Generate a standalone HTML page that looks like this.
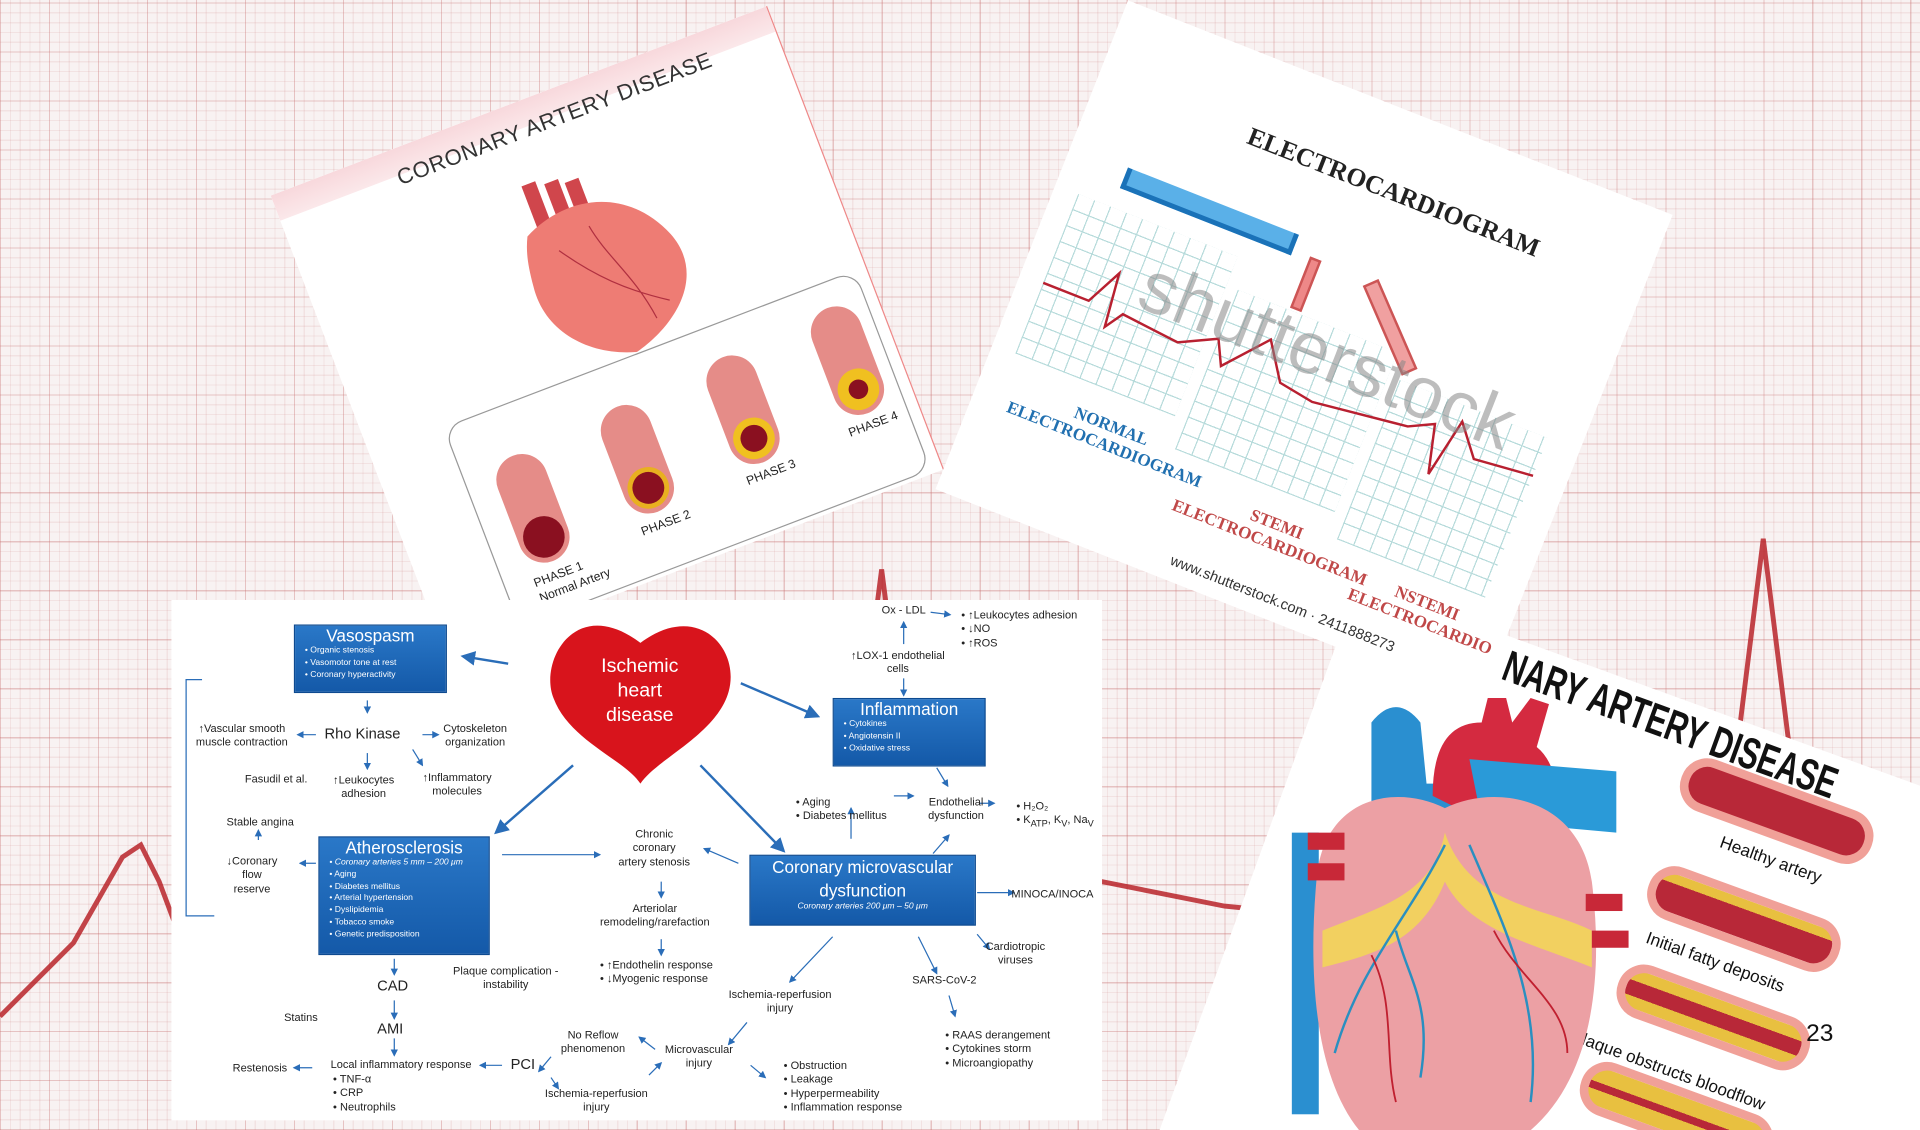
<!DOCTYPE html>
<html><head><meta charset="utf-8"><style>
*{margin:0;padding:0;box-sizing:border-box}
html,body{width:1920px;height:1130px;overflow:hidden;background:#f6f0f0}
#w{position:absolute;left:0;top:0;width:1568px;height:923px;transform:scale(1.22449);transform-origin:0 0;font-family:"Liberation Sans",sans-serif;
background:
repeating-linear-gradient(0deg,rgba(200,110,110,.28) 0 1px,transparent 1px 40px),
repeating-linear-gradient(90deg,rgba(200,110,110,.28) 0 1px,transparent 1px 40px),
repeating-linear-gradient(0deg,rgba(200,120,120,.13) 0 1px,transparent 1px 8px),
repeating-linear-gradient(90deg,rgba(200,120,120,.13) 0 1px,transparent 1px 8px),#f8f2f2;overflow:hidden}
.card{position:absolute;background:#fff;overflow:hidden}
.t{position:absolute;font-size:9px;color:#222;line-height:1.25;white-space:nowrap}
.c{text-align:center}
.box{position:absolute;background:linear-gradient(#2a78c8,#1459a8);color:#fff;border:1px solid #0d4a90}
.box h3{font-weight:normal;text-align:center}
.box ul{list-style:none;font-size:7px;padding-left:8px;line-height:1.4}
.box li:before{content:"• ";}
.tube{position:absolute;width:42px;height:92px;background:#e58c88;border-radius:21px}
.tube i{position:absolute;left:4px;bottom:4px;width:34px;height:34px;border-radius:50%;background:#8a1020}
.grid{position:absolute;background:repeating-linear-gradient(0deg,#9cc 0 1px,transparent 1px 14px),repeating-linear-gradient(90deg,#9cc 0 1px,transparent 1px 14px);opacity:.7}
.art{position:absolute;width:165px;height:45px;border-radius:22px;background:#b82838;border:7px solid #f0a098}
.lb{position:absolute;font-size:14px;color:#111;white-space:nowrap}
</style></head><body><div id="w">
<svg width="1568" height="923" style="position:absolute;left:0;top:0">
<polyline fill="none" stroke="#b8242a" stroke-width="4" opacity=".85" points="0,830 60,770 100,700 115,690 130,720 160,800 200,760 300,740 500,720 680,700 700,620 720,465 740,620 760,700 900,720 1000,740 1200,760 1380,720 1420,600 1440,440 1460,600 1480,740 1568,720"/>
</svg>
<!-- card 1 -->
<div class="card" style="left:279px;top:68.5px;width:434px;height:405px;transform:rotate(-20.9deg);border-right:1px solid #e88;">
<div style="height:22px;background:linear-gradient(#f8d8dc,#fbe8ea)"></div>
<div style="position:absolute;left:102px;top:14px;font-size:18px;color:#333;letter-spacing:.5px">CORONARY ARTERY DISEASE</div>
<svg style="position:absolute;left:164px;top:66px" width="140" height="165" viewBox="0 0 140 165">
<rect x="30" y="0" width="12" height="45" fill="#d0464c"/><rect x="48" y="5" width="12" height="40" fill="#d0464c"/><rect x="64" y="10" width="12" height="35" fill="#d0464c"/>
<path d="M20,40 C60,20 110,30 130,80 C145,120 110,150 70,160 C35,150 5,120 10,80 C12,60 15,50 20,40Z" fill="#ee7c74"/>
<path d="M40,60 C60,90 80,110 110,130 M70,50 C75,80 90,100 95,140" stroke="#b03040" fill="none"/>
</svg>
<div style="position:absolute;left:64px;top:227px;width:360px;height:175px;border:1px solid #999;border-radius:16px"></div>
<div class="tube" style="left:88px;top:269px"><i></i></div>
<div class="tube" style="left:182px;top:262px"><i style="background:#8a1020;border:4px solid #e8b020"></i></div>
<div class="tube" style="left:277px;top:255px"><i style="border:6px solid #f0c020"></i></div>
<div class="tube" style="left:371px;top:248px"><i style="border:9px solid #f0c020"></i></div>
<div class="t" style="left:88px;top:368px;font-size:10px">PHASE 1<br>Normal Artery</div><div class="t" style="left:185px;top:360px;font-size:10px">PHASE 2</div>
<div class="t" style="left:280px;top:352px;font-size:10px">PHASE 3</div><div class="t" style="left:372px;top:345px;font-size:10px">PHASE 4</div>
</div>
<!-- card 4 -->
<div class="card" style="left:1110px;top:475px;width:620px;height:620px;transform:rotate(20deg);transform-origin:0 0">
<div style="position:absolute;left:135px;top:2px;font:bold 36px 'Liberation Sans',sans-serif;color:#111;transform:scaleX(.68);transform-origin:0 0">NARY ARTERY DISEASE</div>
<div class="art" style="left:302px;top:37px"></div>
<div class="lb" style="left:350px;top:90px">Healthy artery</div>
<div class="art" style="left:307px;top:129px;background:linear-gradient(#e8c040 0 25%,#b82838 25%)"></div>
<div class="lb" style="left:320px;top:184px">Initial fatty deposits</div>
<div class="art" style="left:311px;top:213px;background:linear-gradient(#e8c040 0 30%,#b82838 30% 70%,#e8c040 70%)"></div>
<div class="lb" style="left:290px;top:280px">Plaque obstructs bloodflow</div>
<div class="art" style="left:310px;top:298px;background:linear-gradient(#e8c040 0 40%,#b82838 40% 60%,#e8c040 60%)"></div>
</div>
<svg width="1568" height="923" style="position:absolute;left:0;top:0">
<rect x="1055" y="680" width="22" height="230" fill="#2a8fd0"/>
<path d="M1120,700 L1120,590 Q1140,565 1160,590 L1165,640 L1230,640 Q1255,650 1260,690 Z" fill="#2a8fd0"/>
<path d="M1170,650 Q1170,590 1210,590 L1215,570 L1230,570 L1235,590 L1250,570 L1265,575 L1255,610 Q1280,630 1270,700 Z" fill="#d42a40"/>
<path d="M1200,620 L1320,630 L1320,680 L1210,670Z" fill="#2a9ad8"/>
<path d="M1075,720 C1080,650 1140,640 1180,660 C1220,640 1290,650 1300,720 C1310,800 1300,880 1250,923 L1110,923 C1075,880 1068,800 1075,720Z" fill="#eca0a4"/>
<path d="M1080,760 C1130,740 1170,730 1180,680 C1200,740 1260,740 1300,760 L1300,790 C1250,770 1200,760 1180,720 C1160,770 1120,780 1080,790Z" fill="#f2d060"/>
<g stroke="#2a8fc0" stroke-width="2" fill="none"><path d="M1180,690 C1150,750 1110,790 1090,860 M1200,690 C1230,760 1260,820 1250,900 M1140,760 C1150,800 1170,820 1160,880"/></g>
<g stroke="#c02030" stroke-width="1.5" fill="none"><path d="M1120,780 C1140,820 1130,860 1140,900 M1220,760 C1240,800 1280,820 1280,860"/></g>
<rect x="1068" y="680" width="30" height="14" fill="#c82838"/><rect x="1068" y="705" width="30" height="14" fill="#c82838"/>
<rect x="1295" y="730" width="30" height="14" fill="#c82838"/><rect x="1300" y="760" width="30" height="14" fill="#c82838"/>
</svg>
<!-- card 2 -->
<div class="card" style="left:826px;top:72.5px;width:478px;height:429px;transform:rotate(21.5deg)">
<div style="position:absolute;left:132px;top:54px;font:bold 21px 'Liberation Serif',serif;color:#222">ELECTROCARDIOGRAM</div>
<div class="grid" style="left:20px;top:162px;width:140px;height:140px"></div>
<div class="grid" style="left:170px;top:187px;width:140px;height:140px"></div>
<div class="grid" style="left:320px;top:207px;width:130px;height:140px"></div>
<div style="position:absolute;left:50px;top:127px;width:150px;height:18px;border:4px solid #1a72b8;border-top:none;background:#5ab0e8"></div>
<div style="position:absolute;left:215px;top:140px;width:10px;height:45px;background:#e88;border:2px solid #c55"></div>
<div style="position:absolute;left:290px;top:130px;width:14px;height:80px;background:#f0a0a0;border:2px solid #c55;transform:rotate(-45deg)"></div>
<svg style="position:absolute;left:20px;top:200px" width="440" height="80"><polyline fill="none" stroke="#b82030" stroke-width="2" points="0,40 40,40 55,10 60,55 70,40 120,45 150,30 160,50 190,15 210,45 240,50 320,40 340,30 350,70 360,20 380,45 430,40"/></svg>
<div style="position:absolute;left:96px;top:175px;font-size:60px;color:#888;opacity:.55">shutterstock</div>
<div style="position:absolute;left:30px;top:322px;font:bold 14px 'Liberation Serif',serif;color:#2170b0;text-align:center">NORMAL<br>ELECTROCARDIOGRAM</div>
<div style="position:absolute;left:185px;top:347px;font:bold 14px 'Liberation Serif',serif;color:#c04848;text-align:center">STEMI<br>ELECTROCARDIOGRAM</div>
<div style="position:absolute;left:345px;top:362px;font:bold 14px 'Liberation Serif',serif;color:#c04848;text-align:center">NSTEMI<br>ELECTROCARDIO</div>
<div style="position:absolute;left:200px;top:405px;font-size:12px;color:#333">www.shutterstock.com · 2411888273</div>
</div>
<div class="t" style="left:1475px;top:832px;font-size:20px;color:#111">23</div>
<!-- diagram -->
<div class="card" style="left:140px;top:490px;width:760px;height:425px">
<svg width="760" height="425" style="position:absolute;left:0;top:0">
<defs><marker id="a" markerWidth="6" markerHeight="6" refX="5" refY="3" orient="auto"><path d="M0,0L6,3L0,6z" fill="#2a6db8"/></marker></defs>
<path d="M383,35 C330,-5 300,50 312,80 C325,115 370,130 383,150 C396,130 445,110 455,75 C465,40 430,0 383,35Z" fill="#d8141c"/>
<g stroke="#2a6db8" stroke-width="2" fill="none" marker-end="url(#a)">
<line x1="275" y1="52" x2="238" y2="46"/><line x1="465" y1="68" x2="528" y2="95"/>
<line x1="328" y1="135" x2="265" y2="190"/><line x1="432" y1="135" x2="500" y2="205"/>
</g>
<g stroke="#2a6db8" stroke-width="1" fill="none" marker-end="url(#a)">
<line x1="160" y1="82" x2="160" y2="92"/><line x1="118" y1="110" x2="103" y2="110"/><line x1="205" y1="110" x2="218" y2="110"/>
<line x1="160" y1="125" x2="160" y2="138"/><line x1="197" y1="122" x2="205" y2="135"/>
<line x1="270" y1="208" x2="350" y2="208"/><line x1="463" y1="215" x2="435" y2="203"/>
<line x1="400" y1="230" x2="400" y2="243"/><line x1="400" y1="277" x2="400" y2="290"/>
<line x1="71" y1="196" x2="71" y2="188"/><line x1="118" y1="215" x2="105" y2="215"/>
<line x1="182" y1="293" x2="182" y2="306"/><line x1="182" y1="327" x2="182" y2="342"/><line x1="182" y1="358" x2="182" y2="372"/>
<line x1="270" y1="380" x2="252" y2="380"/><line x1="115" y1="382" x2="100" y2="382"/>
<line x1="598" y1="36" x2="598" y2="18"/><line x1="598" y1="64" x2="598" y2="78"/><line x1="620" y1="10" x2="636" y2="12"/>
<line x1="625" y1="137" x2="634" y2="152"/><line x1="555" y1="195" x2="555" y2="170"/><line x1="590" y1="160" x2="606" y2="160"/>
<line x1="622" y1="207" x2="635" y2="192"/><line x1="660" y1="166" x2="672" y2="166"/><line x1="658" y1="239" x2="688" y2="239"/>
<line x1="540" y1="275" x2="505" y2="312"/><line x1="610" y1="275" x2="625" y2="305"/><line x1="658" y1="273" x2="668" y2="285"/>
<line x1="635" y1="323" x2="640" y2="340"/><line x1="470" y1="345" x2="455" y2="363"/><line x1="395" y1="367" x2="382" y2="357"/>
<line x1="310" y1="373" x2="300" y2="385"/><line x1="310" y1="390" x2="316" y2="399"/><line x1="390" y1="388" x2="400" y2="378"/>
<line x1="473" y1="380" x2="485" y2="390"/>
</g>
<path d="M35,258 H12 V65 H25" stroke="#2a6db8" fill="none"/>
</svg>
<div class="box" style="left:100px;top:20px;width:125px;height:56px"><h3 style="font-size:14px">Vasospasm</h3><ul><li>Organic stenosis</li><li>Vasomotor tone at rest</li><li>Coronary hyperactivity</li></ul></div>
<div class="t c" style="left:315px;top:45px;width:135px;font-size:16px;color:#fff">Ischemic<br>heart<br>disease</div>
<div class="box" style="left:540px;top:80px;width:125px;height:56px"><h3 style="font-size:14px">Inflammation</h3><ul><li>Cytokines</li><li>Angiotensin II</li><li>Oxidative stress</li></ul></div>
<div class="box" style="left:120px;top:193px;width:140px;height:97px"><h3 style="font-size:14px">Atherosclerosis</h3><ul><li style="list-style:none;font-style:italic">Coronary arteries 5 mm – 200 μm</li><li>Aging</li><li>Diabetes mellitus</li><li>Arterial hypertension</li><li>Dyslipidemia</li><li>Tobacco smoke</li><li>Genetic predisposition</li></ul></div>
<div class="box" style="left:472px;top:208px;width:185px;height:58px"><h3 style="font-size:14px;line-height:1.35">Coronary microvascular<br>dysfunction</h3><div style="font-size:7px;font-style:italic;text-align:center">Coronary arteries 200 μm – 50 μm</div></div>
<div class="t" style="left:125px;top:102px;font-size:12px">Rho Kinase</div>
<div class="t c" style="left:20px;top:100px">↑Vascular smooth<br>muscle contraction</div>
<div class="t c" style="left:222px;top:100px">Cytoskeleton<br>organization</div>
<div class="t" style="left:60px;top:141px">Fasudil et al.</div>
<div class="t c" style="left:132px;top:142px">↑Leukocytes<br>adhesion</div>
<div class="t c" style="left:205px;top:140px">↑Inflammatory<br>molecules</div>
<div class="t" style="left:45px;top:176px">Stable angina</div>
<div class="t c" style="left:45px;top:208px">↓Coronary<br>flow<br>reserve</div>
<div class="t c" style="left:365px;top:186px">Chronic<br>coronary<br>artery stenosis</div>
<div class="t c" style="left:350px;top:247px">Arteriolar<br>remodeling/rarefaction</div>
<div class="t" style="left:350px;top:293px">• ↑Endothelin response<br>• ↓Myogenic response</div>
<div class="t" style="left:580px;top:3px">Ox - LDL</div>
<div class="t" style="left:645px;top:7px">• ↑Leukocytes adhesion<br>• ↓NO<br>• ↑ROS</div>
<div class="t c" style="left:555px;top:40px">↑LOX-1 endothelial<br>cells</div>
<div class="t" style="left:510px;top:160px">• Aging<br>• Diabetes mellitus</div>
<div class="t c" style="left:618px;top:160px">Endothelial<br>dysfunction</div>
<div class="t" style="left:690px;top:163px">• H₂O₂<br>• K<sub>ATP</sub>, K<sub>V</sub>, Na<sub>V</sub></div>
<div class="t" style="left:686px;top:235px">MINOCA/INOCA</div>
<div class="t c" style="left:665px;top:278px">Cardiotropic<br>viruses</div>
<div class="t" style="left:605px;top:305px">SARS-CoV-2</div>
<div class="t c" style="left:455px;top:317px">Ischemia-reperfusion<br>injury</div>
<div class="t" style="left:632px;top:350px">• RAAS derangement<br>• Cytokines storm<br>• Microangiopathy</div>
<div class="t" style="left:168px;top:308px;font-size:12px">CAD</div>
<div class="t c" style="left:230px;top:298px">Plaque complication -<br>instability</div>
<div class="t" style="left:92px;top:336px">Statins</div>
<div class="t" style="left:168px;top:343px;font-size:12px">AMI</div>
<div class="t" style="left:50px;top:377px">Restenosis</div>
<div class="t" style="left:130px;top:374px">Local inflammatory response</div>
<div class="t" style="left:132px;top:386px">• TNF-α<br>• CRP<br>• Neutrophils</div>
<div class="t" style="left:277px;top:372px;font-size:12px">PCI</div>
<div class="t c" style="left:318px;top:350px">No Reflow<br>phenomenon</div>
<div class="t c" style="left:403px;top:362px">Microvascular<br>injury</div>
<div class="t c" style="left:305px;top:398px">Ischemia-reperfusion<br>injury</div>
<div class="t" style="left:500px;top:375px">• Obstruction<br>• Leakage<br>• Hyperpermeability<br>• Inflammation response</div>
</div>
</div></body></html>
